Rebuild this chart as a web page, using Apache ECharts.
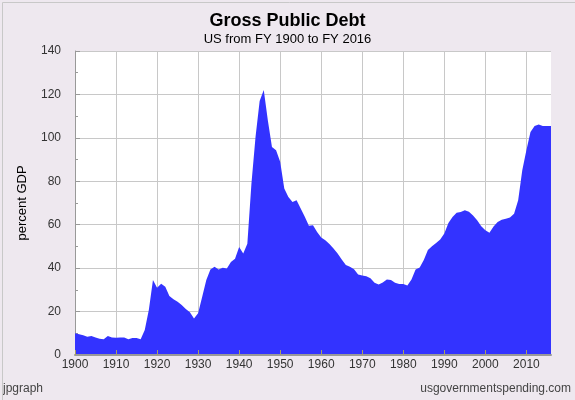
<!DOCTYPE html>
<html>
<head>
<meta charset="utf-8">
<script src="https://cdn.jsdelivr.net/npm/echarts@6/dist/echarts.min.js"></script>
<style>
html,body{margin:0;padding:0;background:#EEE8EF;}
#chart{width:575px;height:400px;}
</style>
</head>
<body>
<div id="chart"></div>
<script>
var titleText = 'Gross Public Debt';
var subtitleText = 'US from FY 1900 to FY 2016';
var yAxisName = 'percent GDP';
var leftCredit = 'jpgraph';
var rightCredit = 'usgovernmentspending.com';

var xTickYears = [1900, 1910, 1920, 1930, 1940, 1950, 1960, 1970, 1980, 1990, 2000, 2010];

var startYear = 1900;
var debtValues = [
  10.0, 9.6, 9.1, 8.4, 8.7, 8.1, 7.5, 7.3, 8.7, 8.1,      // 1900-1909
  7.9, 8.1, 8.1, 7.3, 7.8, 7.8, 7.3, 11.5, 20.8, 34.5,    // 1910-1919
  31.0, 32.8, 31.4, 27.2, 25.7, 24.5, 23.0, 21.2, 19.7, 16.8, // 1920-1929
  19.2, 26.8, 34.5, 39.4, 40.6, 39.4, 40.2, 39.8, 42.8, 44.3, // 1930-1939
  49.7, 46.7, 51.2, 79.0, 100.5, 117.0, 122.0, 108.0, 95.8, 94.3, // 1940-1949
  89.0, 76.7, 72.8, 70.5, 71.3, 67.5, 63.7, 59.5, 59.7, 56.7, // 1950-1959
  54.1, 52.9, 51.1, 49.1, 46.7, 44.0, 41.4, 40.6, 39.5, 37.1, // 1960-1969
  36.6, 36.3, 35.3, 33.3, 32.5, 33.4, 34.8, 34.5, 33.3, 32.7, // 1970-1979
  32.7, 32.0, 34.8, 39.4, 40.3, 43.8, 48.3, 50.1, 51.6, 53.2, // 1980-1989
  55.9, 60.8, 63.6, 65.5, 65.8, 66.7, 66.0, 64.2, 62.1, 59.3, // 1990-1999
  57.5, 56.3, 59.2, 61.3, 62.3, 62.8, 63.3, 65.0, 71.3, 85.1, // 2000-2009
  94.3, 102.7, 105.5, 106.1, 105.5, 105.5, 105.5             // 2010-2016
];
var years = debtValues.map(function (v, i) { return startYear + i; });
var seriesData = years.map(function (y, i) { return [y, debtValues[i]]; });

var chart = echarts.init(document.getElementById('chart'), null, {renderer: 'canvas'});
var font = 'Liberation Sans, Arial, sans-serif';
chart.setOption({
  backgroundColor: '#EEE8EF',
  animation: false,
  title: [
    {text: titleText, left: 'center', top: 7,
     textStyle: {fontFamily: font, fontSize: 18, fontWeight: 'bold', color: '#000'}},
    {text: subtitleText, left: 'center', top: 28,
     textStyle: {fontFamily: font, fontSize: 13, fontWeight: 'normal', color: '#000'}}
  ],
  grid: {left: 75, right: 24, top: 51, bottom: 45, show: true, backgroundColor: '#fff', borderWidth: 0},
  xAxis: {
    type: 'value', min: 1900, max: 2016, interval: 10,
    axisLine: {show: true, lineStyle: {color: '#999', width: 2}},
    axisTick: {show: true, inside: true, length: 5, lineStyle: {color: '#A8A060'}},
    axisLabel: {color: '#333', fontFamily: font, fontSize: 12, margin: 4, showMaxLabel: false,
      formatter: function (v) { return v % 10 === 0 ? String(v) : ''; }},
    splitLine: {show: false},
    z: 4
  },
  yAxis: {
    type: 'value', min: 0, max: 140, interval: 20,
    name: yAxisName, nameLocation: 'middle', nameGap: 46, nameRotate: 90,
    nameTextStyle: {fontFamily: font, fontSize: 13, color: '#000'},
    axisLine: {show: true, lineStyle: {color: '#999', width: 1}},
    axisTick: {show: true, inside: true, length: 5, lineStyle: {color: '#999'}},
    minorTick: {show: true, splitNumber: 2, length: 3, lineStyle: {color: '#999'}},
    axisLabel: {color: '#333', fontFamily: font, fontSize: 12, margin: 14},
    splitLine: {show: true, lineStyle: {color: '#C8C8C8', width: 1}}
  },
  series: [
    {
      type: 'line', data: [], silent: true, z: 1,
      markLine: {
        z: 1, zlevel: 0,
        silent: true, symbol: 'none', animation: false,
        label: {show: false},
        lineStyle: {color: '#C8C8C8', width: 1, type: 'solid'},
        data: xTickYears.slice(1).map(function (y) { return {xAxis: y}; })
      }
    },
    {
      type: 'line', data: seriesData, symbol: 'none', smooth: false,
      lineStyle: {width: 0, color: '#3333FF'},
      areaStyle: {color: '#3333FF', opacity: 1},
      z: 3
    }
  ],
  graphic: [
    {type: 'rect', left: 0, top: 0, shape: {width: 574, height: 399},
     style: {fill: 'none', stroke: '#C8C8C8', lineWidth: 1}, z: 10},
    {type: 'text', left: 3, top: 383,
     style: {text: leftCredit, fontFamily: font, fontSize: 12, fill: '#444'}},
    {type: 'text', right: 4, top: 383,
     style: {text: rightCredit, fontFamily: font, fontSize: 12, fill: '#444'}}
  ]
});
</script>
</body>
</html>
